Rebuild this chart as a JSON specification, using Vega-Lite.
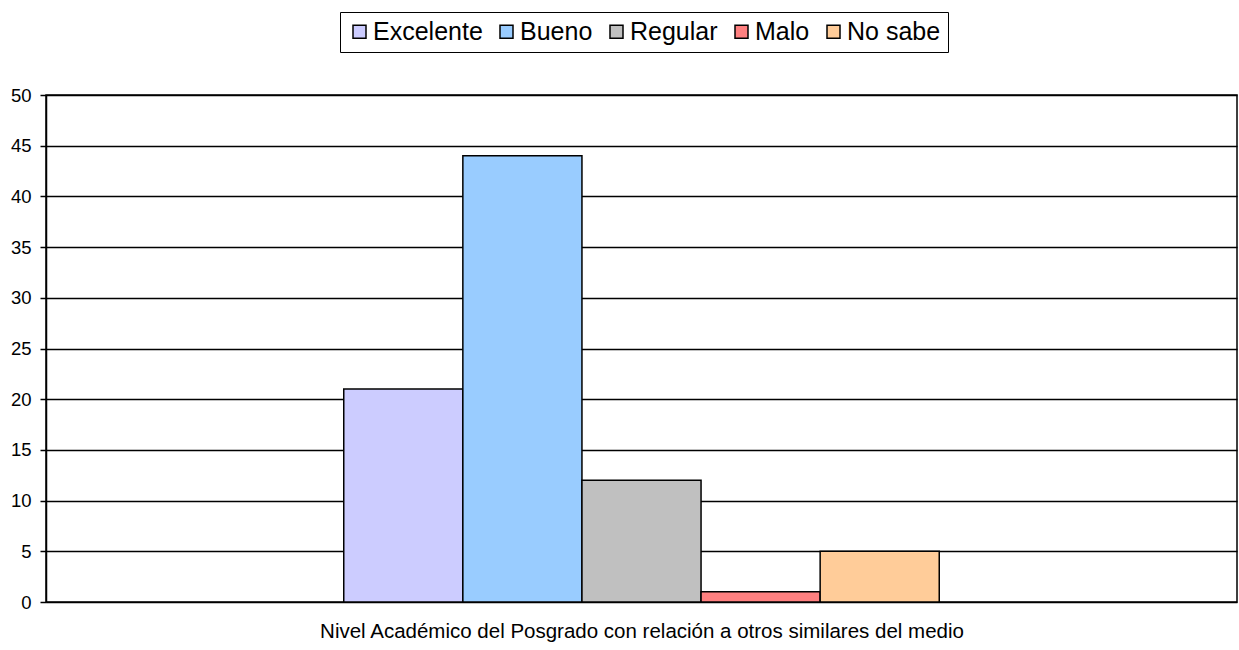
{
  "$schema": "https://vega.github.io/schema/vega-lite/v6.json",
  "width": 1191,
  "height": 507,
  "autosize": "none",
  "padding": {"left": 46, "top": 95, "right": 2, "bottom": 48},
  "background": "white",
  "config": {
    "font": "Liberation Sans",
    "view": {"stroke": "black", "strokeWidth": 1.5}
  },
  "data": {
    "values": [
      {"categoria": "Excelente", "valor": 21},
      {"categoria": "Bueno", "valor": 44},
      {"categoria": "Regular", "valor": 12},
      {"categoria": "Malo", "valor": 1},
      {"categoria": "No sabe", "valor": 5}
    ]
  },
  "mark": {"type": "bar", "stroke": "black", "strokeWidth": 1.5},
  "encoding": {
    "x": {
      "field": "categoria",
      "type": "nominal",
      "scale": {
        "domain": ["_a", "_b", "Excelente", "Bueno", "Regular", "Malo", "No sabe", "_c", "_d"],
        "paddingInner": 0,
        "paddingOuter": 0.5
      },
      "axis": {
        "title": "Nivel Académico del Posgrado con relación a otros similares del medio",
        "titleFont": "Liberation Sans",
        "titleFontSize": 20.5,
        "titleFontWeight": "normal",
        "titleColor": "black",
        "titlePadding": 19,
        "labels": false,
        "ticks": false,
        "domain": false
      }
    },
    "y": {
      "field": "valor",
      "type": "quantitative",
      "scale": {"domain": [0, 50], "nice": false},
      "axis": {
        "title": null,
        "values": [0, 5, 10, 15, 20, 25, 30, 35, 40, 45, 50],
        "grid": true,
        "gridColor": "black",
        "gridWidth": 1.5,
        "gridOpacity": 1,
        "domainColor": "black",
        "domainWidth": 1.5,
        "tickColor": "black",
        "tickWidth": 1.5,
        "tickSize": 6,
        "labelFont": "Liberation Sans",
        "labelFontSize": 18.5,
        "labelColor": "black",
        "labelPadding": 9
      }
    },
    "color": {
      "field": "categoria",
      "type": "nominal",
      "scale": {
        "domain": ["Excelente", "Bueno", "Regular", "Malo", "No sabe"],
        "range": ["#CCCCFF", "#99CCFF", "#C0C0C0", "#FF8080", "#FFCC99"]
      },
      "legend": {
        "title": null,
        "orient": "none",
        "direction": "horizontal",
        "legendX": 294,
        "legendY": -83,
        "strokeColor": "black",
        "padding": 7,
        "symbolType": "square",
        "symbolSize": 169,
        "symbolStrokeColor": "black",
        "symbolStrokeWidth": 1.5,
        "symbolOpacity": 1,
        "labelFont": "Liberation Sans",
        "labelFontSize": 25,
        "labelColor": "black",
        "labelOffset": 1,
        "columnPadding": 11,
        "fillColor": "white"
      }
    }
  }
}
